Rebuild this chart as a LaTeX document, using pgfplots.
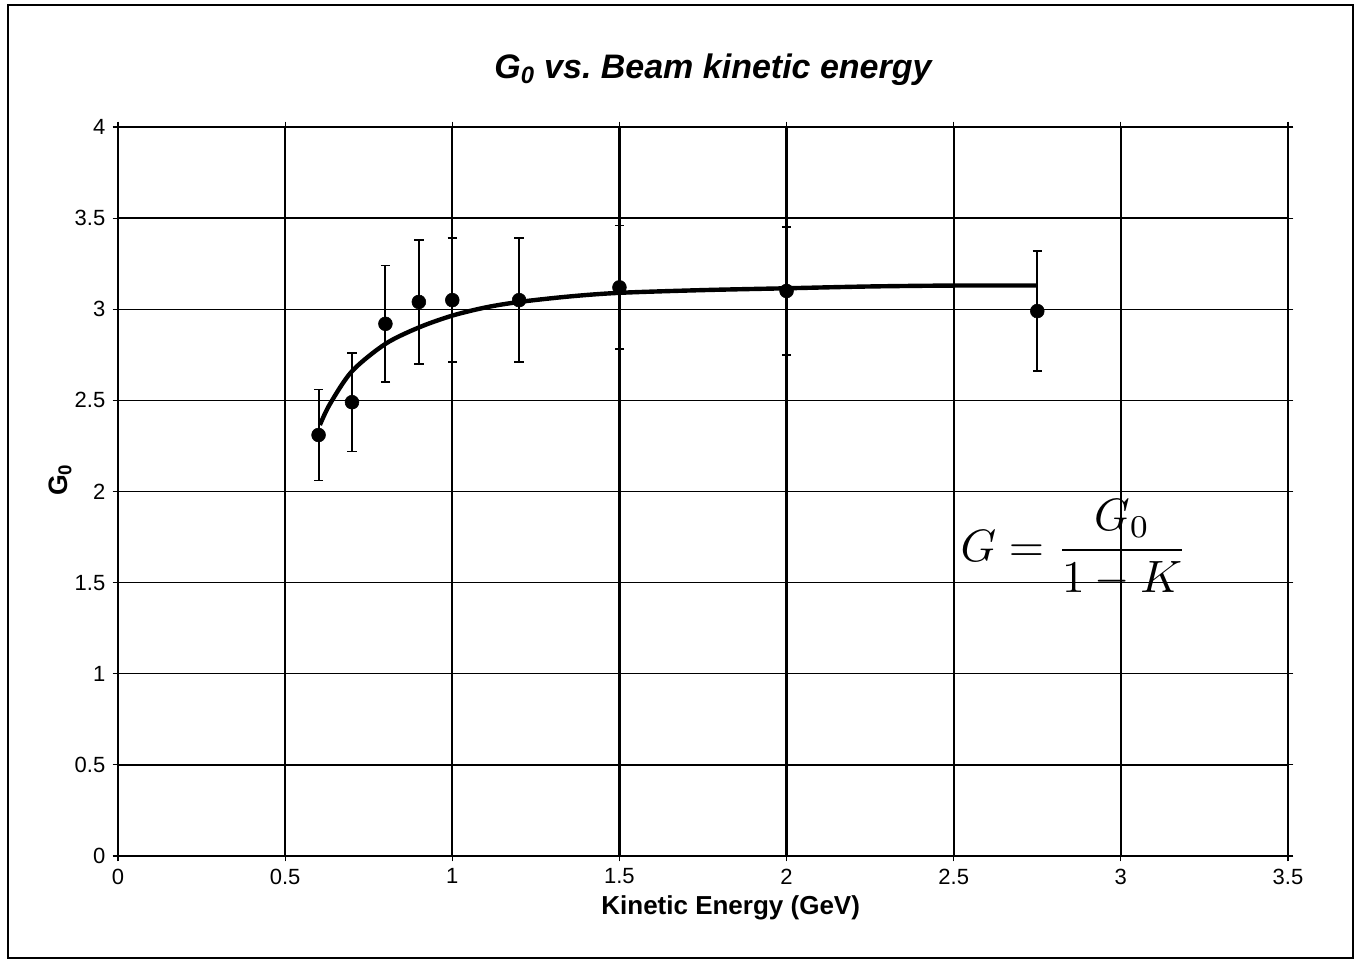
\documentclass[border=0pt]{standalone}
\usepackage{fontspec}
\setmainfont{Liberation Sans}
\usepackage{pgfplots}
\pgfplotsset{compat=1.18}
\usepackage{pgfplotstable}

% measured G0 with its uncertainty
\pgfplotstableread{
x     y     err
0.6   2.31  0.25
0.7   2.49  0.27
0.8   2.92  0.32
0.9   3.04  0.34
1.0   3.05  0.34
1.2   3.05  0.34
1.5   3.12  0.34
2.0   3.10  0.35
2.75  2.99  0.33
}\gzdata

% fitted curve
\pgfplotstableread{
x      y
0.604  2.365
0.634  2.48
0.70   2.66
0.80   2.81
0.90   2.90
1.00   2.965
1.10   3.01
1.20   3.04
1.35   3.07
1.50   3.09
1.75   3.105
2.00   3.115
2.25   3.125
2.50   3.13
2.75   3.13
}\fitdata

\begin{document}
\begin{tikzpicture}
\useasboundingbox (0,0) rectangle (1020.75pt,721.5pt);
\draw[line width=1.8pt] (6pt,3pt) rectangle (1014.75pt,717.75pt);
\begin{axis}[
  at={(88.5pt,79.5pt)}, anchor=south west,
  scale only axis, width=877.5pt, height=546.75pt,
  xmin=0, xmax=3.5, ymin=0, ymax=4,
  xtick={0,0.5,1,1.5,2,2.5,3,3.5},
  ytick={0,0.5,1,1.5,2,2.5,3,3.5,4},
  grid=major,
  x grid style={black, line width=1.8pt},
  y grid style={black, line width=1.1pt},
  axis line style={black, line width=1.4pt},
  tick align=outside, major tick length=4pt,
  tick style={black, line width=0.9pt},
  ticklabel style={font=\fontsize{16.5}{19}\selectfont},
  /pgf/number format/assume math mode=true,
  xticklabel style={yshift=-2pt},
  yticklabel style={xshift=-2pt},
  clip=false,
]
\addplot[black, line width=3.3pt, smooth] table[x=x, y=y] {\fitdata};
\addplot[black, only marks, mark=*, mark size=5.2pt,
  error bars/.cd, y dir=both, y explicit,
  error bar style={line width=1.5pt},
  error mark options={rotate=90, mark size=3.5pt, line width=1.3pt}]
  table[x=x, y=y, y error=err] {\gzdata};
\node[scale=3.4] at (axis cs:2.86,1.69) {$\displaystyle G = \frac{G_0}{1-K}$};
\end{axis}
\node at (534.75pt,669pt) {\fontsize{25.5}{29}\selectfont\bfseries\itshape G\textsubscript{0} vs.\ Beam kinetic energy};
\node at (548pt,40.5pt) {\fontsize{19.5}{23}\selectfont\bfseries Kinetic Energy (GeV)};
\node[rotate=90] at (45pt,361.5pt) {\fontsize{20}{23}\selectfont\bfseries G\textsubscript{0}};
\end{tikzpicture}
\end{document}
